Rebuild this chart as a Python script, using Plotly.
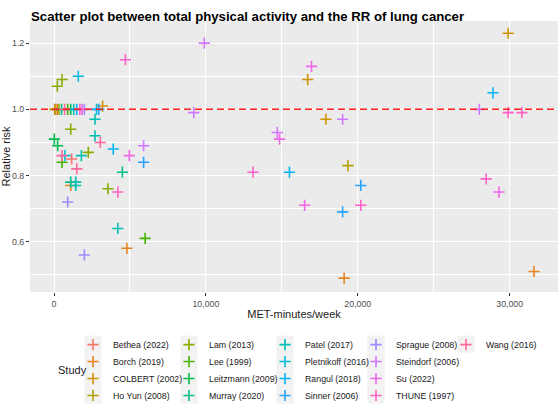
import math
import plotly.graph_objects as go

# ---------------- data ----------------
studies = ["Bethea (2022)", "Borch (2019)", "COLBERT (2002)", "Ho Yun (2008)",
           "Lam (2013)", "Lee (1999)", "Leitzmann (2009)", "Murray (2020)",
           "Patel (2017)", "Pletnikoff (2016)", "Rangul (2018)", "Sinner (2006)",
           "Sprague (2008)", "Steindorf (2006)", "Su (2022)", "THUNE (1997)",
           "Wang (2016)"]

point_study = [
    "Ho Yun (2008)", "Bethea (2022)", "Borch (2019)", "Lam (2013)", "Murray (2020)",
    "Wang (2016)", "Lee (1999)", "Leitzmann (2009)", "Patel (2017)", "Rangul (2018)",
    "THUNE (1997)", "Su (2022)", "Sprague (2008)", "Pletnikoff (2016)", "Sinner (2006)",
    "COLBERT (2002)",
    "Lam (2013)", "Lam (2013)", "Pletnikoff (2016)", "THUNE (1997)", "Patel (2017)",
    "Lam (2013)", "Patel (2017)", "Leitzmann (2009)", "Wang (2016)", "Leitzmann (2009)",
    "Rangul (2018)", "Steindorf (2006)", "Wang (2016)", "Pletnikoff (2016)", "Bethea (2022)",
    "Patel (2017)", "Lam (2013)", "Su (2022)", "Sinner (2006)", "Lee (1999)",
    "Wang (2016)", "Murray (2020)", "Murray (2020)", "Patel (2017)", "Borch (2019)",
    "Patel (2017)", "Lam (2013)", "THUNE (1997)", "Sprague (2008)", "Patel (2017)",
    "Lee (1999)", "Borch (2019)", "Sprague (2008)",
    "Steindorf (2006)", "Su (2022)", "COLBERT (2002)", "Steindorf (2006)", "COLBERT (2002)",
    "Steindorf (2006)", "Steindorf (2006)", "Su (2022)", "Ho Yun (2008)", "THUNE (1997)",
    "Rangul (2018)", "Sinner (2006)", "Su (2022)", "THUNE (1997)", "Sinner (2006)",
    "Borch (2019)",
    "COLBERT (2002)", "Rangul (2018)", "Steindorf (2006)", "THUNE (1997)", "THUNE (1997)",
    "THUNE (1997)", "Su (2022)", "Borch (2019)",
]
met_minutes = [
    50, 120, 220, 330, 500,
    700, 900, 1100, 1300, 1500,
    1700, 1850, 2000, 2800, 2950,
    3200,
    530, 220, 1600, 4700, 2700,
    1100, 2700, 20, 3050, 240,
    3900, 5900, 530, 720, 1160,
    1800, 2260, 4960, 5900, 530,
    1500, 4500, 1100, 1430, 1100,
    1430, 3550, 4200, 900, 4200,
    6000, 4800, 2000,
    9900, 16950, 16700, 9200, 17900,
    19000, 14700, 14850, 19350, 13100,
    15500, 20200, 16500, 20200, 19000,
    19100,
    29900, 28900, 28000, 29900, 30800,
    28450, 29300, 31600,
]
relative_risk = [
    1.00, 1.00, 1.00, 1.00, 1.00,
    1.00, 1.00, 1.00, 1.00, 1.00,
    1.00, 1.00, 1.00, 1.00, 1.00,
    1.01,
    1.09, 1.07, 1.10, 1.15, 0.97,
    0.94, 0.92, 0.91, 0.90, 0.89,
    0.88, 0.89, 0.86, 0.86, 0.85,
    0.86, 0.87, 0.86, 0.84, 0.84,
    0.82, 0.81, 0.78, 0.78, 0.77,
    0.77, 0.76, 0.75, 0.72, 0.64,
    0.61, 0.58, 0.56,
    1.20, 1.13, 1.09, 0.99, 0.97,
    0.97, 0.93, 0.91, 0.83, 0.81,
    0.81, 0.77, 0.71, 0.71, 0.69,
    0.49,
    1.23, 1.05, 1.00, 0.99, 0.99,
    0.79, 0.75, 0.51,
]
x_tick_values = [0, 10000, 20000, 30000]
x_tick_labels = ["0", "10,000", "20,000", "30,000"]
y_tick_values = [0.6, 0.8, 1.0, 1.2]
y_tick_labels = ["0.6", "0.8", "1.0", "1.2"]
reference_rr = 1.0
x_range = [-1580, 33180]
y_range = [0.448, 1.267]


# ---------------- ggplot hue palette ----------------
def hcl_hex(h, c=100.0, l=65.0):
    hr = math.radians(h)
    U = c * math.cos(hr)
    V = c * math.sin(hr)
    Y = ((l + 16) / 116) ** 3 if l > 8 else l / 903.3
    un, vn = 0.1978398, 0.4683363
    u = U / (13 * l) + un
    v = V / (13 * l) + vn
    X = 9.0 * Y * u / (4 * v)
    Z = -X / 3 - 5 * Y + 3 * Y / v
    r = 3.240479 * X - 1.537150 * Y - 0.498535 * Z
    g = -0.969256 * X + 1.875992 * Y + 0.041556 * Z
    b = 0.055648 * X - 0.204043 * Y + 1.057311 * Z

    def gam(t):
        t = 12.92 * t if t <= 0.0031308 else 1.055 * t ** (1 / 2.4) - 0.055
        return max(0, min(255, int(round(255 * t))))
    return "#%02X%02X%02X" % (gam(r), gam(g), gam(b))


n = len(studies)
palette = [hcl_hex(15 + i * 360.0 / n) for i in range(n)]

# ---------------- layout helpers ----------------
W, H = 560, 412
ML, MR, MT, MB = 30, 2, 21, 110
PW, PH = W - ML - MR, H - MT - MB


def px_x(px):
    return (px - ML) / PW


def px_y(py):
    return (H - MB - py) / PH


FONT = "Liberation Sans, Arial, sans-serif"

fig = go.Figure()

col_text_px = [111, 207, 303, 394, 484]
row0_py = 356
row_step = 17.6

shapes = []
legend_layouts = {}

for i, s in enumerate(studies):
    xs = [m for m, st in zip(met_minutes, point_study) if st == s]
    ys = [r for r, st in zip(relative_risk, point_study) if st == s]
    col, row = divmod(i, 4)
    lkey = "legend" if i == 0 else "legend%d" % (i + 1)
    fig.add_trace(go.Scatter(
        x=xs, y=ys, mode="markers", name=s, legend=lkey,
        marker=dict(symbol="cross-thin", size=8, color=palette[i],
                    line=dict(color=palette[i], width=1.6)),
        hovertemplate=s + "<br>%{x:,}<br>%{y}<extra></extra>",
    ))
    left_px = col_text_px[col] - 38
    key_px = left_px + 20
    cy = row0_py + row * row_step
    shapes.append(dict(type="rect", xref="paper", yref="paper",
                       x0=px_x(key_px - 8.6), x1=px_x(key_px + 8.6),
                       y0=px_y(cy + row_step / 2), y1=px_y(cy - row_step / 2),
                       fillcolor="#F2F2F2", line=dict(width=0), layer="below"))
    legend_layouts[lkey] = dict(
        x=px_x(left_px), xanchor="left",
        y=px_y(cy - 14.5), yanchor="top",
        orientation="v", bgcolor="rgba(0,0,0,0)", borderwidth=0,
        font=dict(family=FONT, size=8.8, color="#1A1A1A"),
        itemclick=False, itemdoubleclick=False,
    )

# dashed reference line at RR = 1 (spans the full x range)
fig.add_trace(go.Scatter(
    x=x_range, y=[reference_rr, reference_rr], mode="lines",
    line=dict(color="#FF2020", width=1.5, dash="7px,4px"),
    showlegend=False, hoverinfo="skip",
))

fig.update_layout(
    width=W, height=H,
    margin=dict(l=ML, r=MR, t=MT, b=MB, pad=0),
    paper_bgcolor="white", plot_bgcolor="#EBEBEB",
    title=dict(text="<b>Scatter plot between total physical activity and the RR of lung cancer</b>",
               x=px_x(31), xref="paper", xanchor="left",
               y=1 - 16 / H, yref="container", yanchor="middle",
               font=dict(family=FONT, size=13.2, color="black")),
    showlegend=True,
    shapes=shapes,
    annotations=[dict(text="Study", xref="paper", yref="paper",
                      x=px_x(56), y=px_y(row0_py + 1.5 * row_step),
                      xanchor="left", yanchor="middle", showarrow=False,
                      font=dict(family=FONT, size=11, color="#1A1A1A"))],
    **legend_layouts,
)

fig.update_xaxes(
    range=x_range, tickvals=x_tick_values, ticktext=x_tick_labels,
    showgrid=True, gridcolor="white", gridwidth=1.1, zeroline=False,
    showline=False, ticks="outside", ticklen=3, tickwidth=1, tickcolor="#333333",
    tickfont=dict(family=FONT, size=8.8, color="#4D4D4D"),
    minor=dict(dtick=5000, tick0=0, showgrid=True, gridcolor="white", gridwidth=0.5, ticks=""),
    title=dict(text="MET-minutes/week", standoff=2,
               font=dict(family=FONT, size=11, color="#1A1A1A")),
    automargin=False,
)
fig.update_yaxes(
    range=y_range, tickvals=y_tick_values, ticktext=y_tick_labels,
    showgrid=True, gridcolor="white", gridwidth=1.1, zeroline=False,
    showline=False, ticks="outside", ticklen=3, tickwidth=1, tickcolor="#333333",
    tickfont=dict(family=FONT, size=8.8, color="#4D4D4D"),
    minor=dict(dtick=0.1, tick0=0, showgrid=True, gridcolor="white", gridwidth=0.5, ticks=""),
    title=dict(text="Relative risk", standoff=2,
               font=dict(family=FONT, size=11, color="#1A1A1A")),
    automargin=False,
)

fig.write_html("out.html", config={"displayModeBar": False},
               post_script="document.body.style.margin='0';document.body.style.overflow='hidden';")
